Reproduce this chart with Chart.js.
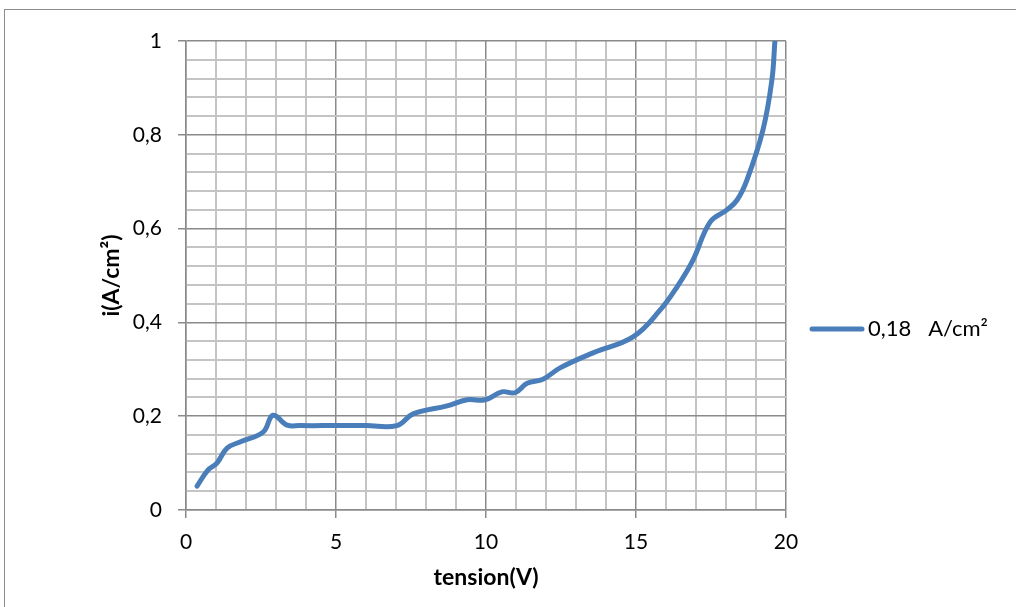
<!DOCTYPE html>
<html>
<head>
<meta charset="utf-8">
<script src="https://cdn.jsdelivr.net/npm/chart.js@4/dist/chart.umd.min.js"></script>
<style>
html,body{margin:0;padding:0;background:#fff;}
#wrap{width:1016px;height:607px;position:relative;}
</style>
</head>
<body>
<div id="wrap"><canvas id="c"></canvas></div>
<script>
// Data
const tensionV = [0.37, 0.73, 1.03, 1.37, 1.8, 2.57, 2.9, 3.37, 3.8, 5.0, 6.0, 7.03, 7.57, 8.7, 9.37, 9.97, 10.53, 10.97, 11.37, 11.9, 12.47, 13.57, 14.9, 15.8, 16.37, 16.9, 17.47, 18.03, 18.37, 18.7, 19.23, 19.53, 19.63];
const currentI = [0.051, 0.085, 0.10, 0.132, 0.145, 0.166, 0.202, 0.181, 0.18, 0.18, 0.18, 0.18, 0.205, 0.222, 0.235, 0.235, 0.252, 0.25, 0.27, 0.279, 0.303, 0.335, 0.369, 0.426, 0.476, 0.533, 0.614, 0.64, 0.661, 0.704, 0.81, 0.917, 1.0];
const seriesLabel = '0,18   A/cm²';
const xTitle = 'tension(V)';
const yTitle = 'i(A/cm²)';
const xTickLabels = [0, 5, 10, 15, 20];
const yTickLabels = [0, 0.2, 0.4, 0.6, 0.8, 1];

const points = tensionV.map((v, k) => ({x: v, y: currentI[k]}));
const FONT = 'Lato, "Open Sans", sans-serif';
const LINE = '#4a7ebb';

function isMajorX(v){ return xTickLabels.some(t => Math.abs(t - v) < 1e-6); }
function isMajorY(v){ return yTickLabels.some(t => Math.abs(t - v) < 1e-6); }
function fmt(v){ return String(Math.round(v * 10) / 10).replace('.', ','); }

const frame = {
  id: 'frame',
  beforeDraw(chart){
    const ctx = chart.ctx;
    ctx.save();
    ctx.fillStyle = '#fff';
    ctx.fillRect(0, 0, chart.width, chart.height);
    ctx.strokeStyle = '#8c8c8c';
    ctx.lineWidth = 1;
    ctx.strokeRect(4.5, 9.5, 1100, 700);
    ctx.restore();
  }
};

const legendPlugin = {
  id: 'legendPlugin',
  afterDraw(chart){
    const ctx = chart.ctx;
    const y = chart.chartArea.top + (chart.chartArea.bottom - chart.chartArea.top) * 0.614;
    ctx.save();
    ctx.strokeStyle = LINE;
    ctx.lineWidth = 5;
    ctx.lineCap = 'round';
    ctx.beginPath();
    ctx.moveTo(chart.chartArea.right + 26, y);
    ctx.lineTo(chart.chartArea.right + 76, y);
    ctx.stroke();
    ctx.fillStyle = '#000';
    ctx.font = '22px ' + FONT;
    ctx.textBaseline = 'middle';
    ctx.textAlign = 'left';
    ctx.fillText(chart.data.datasets[0].label, chart.chartArea.right + 82, y);
    ctx.restore();
  }
};

new Chart(document.getElementById('c'), {
  type: 'scatter',
  data: {
    datasets: [{
      label: seriesLabel,
      data: points,
      showLine: true,
      borderColor: LINE,
      backgroundColor: LINE,
      borderWidth: 5,
      pointRadius: 0,
      tension: 0.4,
      borderCapStyle: 'round',
      borderJoinStyle: 'round'
    }]
  },
  plugins: [frame, legendPlugin],
  options: {
    responsive: true,
    maintainAspectRatio: false,
    animation: false,
    devicePixelRatio: 1,
    layout: { padding: { left: 0, top: 41, right: 230, bottom: 0 } },
    plugins: { legend: { display: false }, tooltip: { enabled: false } },
    scales: {
      x: {
        type: 'linear',
        min: 0, max: 20,
        afterFit(s){ s.height = 97; },
        ticks: {
          stepSize: 1,
          autoSkip: false,
          maxRotation: 0,
          padding: 12,
          color: '#000',
          font: { family: FONT, size: 21 },
          callback: v => isMajorX(v) ? String(v) : ''
        },
        grid: {
          color: c => isMajorX(c.tick.value) ? '#8a8a8a' : '#c4c4c4',
          lineWidth: c => isMajorX(c.tick.value) ? 1.5 : 2,
          tickColor: c => isMajorX(c.tick.value) ? '#8a8a8a' : 'rgba(0,0,0,0)',
          tickLength: 8
        },
        border: { color: '#8a8a8a', width: 1.5 },
        title: {
          display: true, text: xTitle, color: '#000',
          font: { family: FONT, size: 23, weight: 'bold' },
          padding: { top: 0, bottom: 16 }
        }
      },
      y: {
        type: 'linear',
        min: 0, max: 1,
        afterFit(s){ s.width = 186; },
        afterBuildTicks(s){
          const t = [];
          for (let k = 0; k <= 25; k++) t.push({ value: Math.round(k * 4) / 100 });
          s.ticks = t;
        },
        ticks: {
          autoSkip: false,
          padding: 16,
          color: '#000',
          font: { family: FONT, size: 21 },
          callback: v => isMajorY(v) ? fmt(v) : ''
        },
        grid: {
          color: c => isMajorY(c.tick.value) ? '#8a8a8a' : '#c4c4c4',
          lineWidth: c => isMajorY(c.tick.value) ? 1.5 : 2,
          tickColor: c => isMajorY(c.tick.value) ? '#8a8a8a' : 'rgba(0,0,0,0)',
          tickLength: 8
        },
        border: { color: '#8a8a8a', width: 1.5 },
        title: {
          display: true, text: yTitle, color: '#000',
          font: { family: FONT, size: 23, weight: 'bold' },
          padding: { top: 98, bottom: 0 }
        }
      }
    }
  }
});
</script>
</body>
</html>
